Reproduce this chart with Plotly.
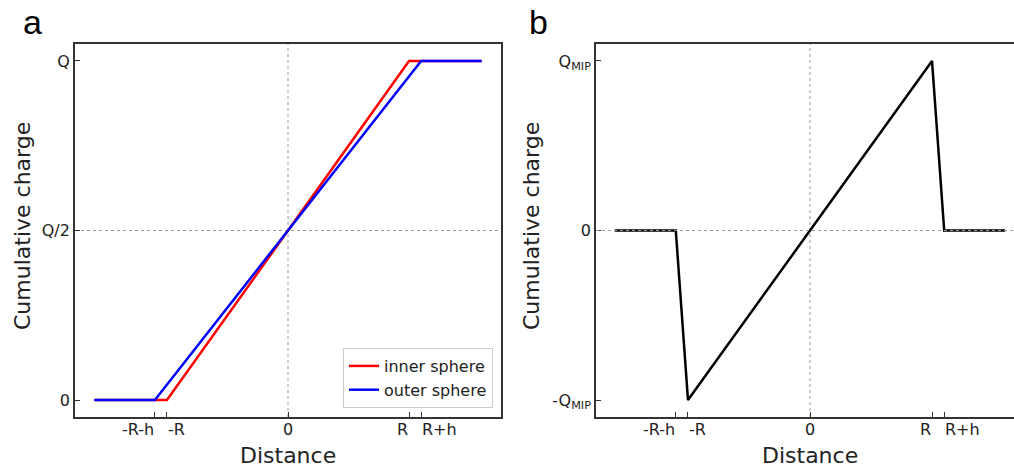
import plotly.graph_objects as go

# ---- data ----
x_inner = [-1.6, -1.0, 1.0, 1.6]
y_inner = [0, 0, 1, 1]
x_outer = [-1.6, -1.1, 1.1, 1.6]
y_outer = [0, 0, 1, 1]
x_mip = [-1.6, -1.1, -1.0, 1.0, 1.1, 1.6]
y_mip = [0, 0, -1, 1, 0, 0]

x_tickvals = [-1.1, -1.0, 0, 1.0, 1.1]
x_ticktext = ["-R-h", "-R", "0", "R", "R+h"]
x_tickalign = ["right", "left", "center", "right", "left"]
ya_tickvals = [0, 0.5, 1]
ya_ticktext = ["0", "Q/2", "Q"]
yb_tickvals = [-1, 0, 1]
yb_ticktext = ["-Q<sub>MIP</sub>", "0", "Q<sub>MIP</sub>"]

W, H = 1014, 472
L, Rm, T, B = 75, 0, 44, 55
PW = W - L - Rm
PH = H - T - B

def px(xp):
    return (xp - L) / PW

def py(yp):
    return (H - B - yp) / PH

FONT = "DejaVu Sans"
AX = "#333333"
TXT = "#222222"

fig = go.Figure()
fig.add_trace(go.Scatter(x=x_inner, y=y_inner, mode="lines", name="inner sphere",
                         line=dict(color="#ff0000", width=2.5), xaxis="x", yaxis="y"))
fig.add_trace(go.Scatter(x=x_outer, y=y_outer, mode="lines", name="outer sphere",
                         line=dict(color="#0000ff", width=2.5), xaxis="x", yaxis="y"))
fig.add_trace(go.Scatter(x=x_mip, y=y_mip, mode="lines", showlegend=False,
                         line=dict(color="#000000", width=2.5), xaxis="x2", yaxis="y2"))

common_x = dict(showgrid=False, zeroline=False, showline=True, linecolor=AX, linewidth=1.8,
                ticks="inside", ticklen=5, tickwidth=1.2, tickcolor=AX,
                tickmode="array", tickvals=x_tickvals, showticklabels=False,
                mirror=True, automargin=False)
common_y = dict(showgrid=False, zeroline=False, showline=True, linecolor=AX, linewidth=1.8,
                ticks="inside", ticklen=5, tickwidth=1.2, tickcolor=AX, tickmode="array",
                tickfont=dict(family=FONT, size=16, color=TXT), automargin=False)

fig.update_layout(
    width=W, height=H, margin=dict(l=L, r=Rm, t=T, b=B, autoexpand=False),
    paper_bgcolor="white", plot_bgcolor="white",
    xaxis=dict(common_x, domain=[0, px(501)], range=[-1.76, 1.76], anchor="y"),
    yaxis=dict(common_y, domain=[0, 1], range=[-0.05, 1.05], tickvals=ya_tickvals,
               ticktext=ya_ticktext, mirror=True, anchor="x"),
    xaxis2=dict(common_x, domain=[px(596), 1], range=[-1.754, 1.672], anchor="y2"),
    yaxis2=dict(common_y, domain=[0, 1], range=[-1.1, 1.1], tickvals=yb_tickvals,
                ticktext=yb_ticktext, mirror=False, anchor="x2"),
    legend=dict(x=px(493), y=py(408), xanchor="right", yanchor="bottom",
                bgcolor="white", bordercolor="#cccccc", borderwidth=1,
                font=dict(family=FONT, size=16, color=TXT), tracegroupgap=0),
    showlegend=True,
)

dot = dict(color="#999999", width=1, dash="dot")
fig.add_shape(type="line", xref="x", yref="paper", x0=0, x1=0, y0=0, y1=1, line=dot, layer="below")
fig.add_shape(type="line", xref="paper", yref="y", x0=0, x1=px(501), y0=0.5, y1=0.5, line=dot, layer="below")
fig.add_shape(type="line", xref="x2", yref="paper", x0=0, x1=0, y0=0, y1=1, line=dot, layer="below")
fig.add_shape(type="line", xref="paper", yref="y2", x0=px(596), x1=1, y0=0, y1=0, line=dot, layer="above")

ann = []
# x tick labels
for xr in ["x", "x2"]:
    for v, t, a in zip(x_tickvals, x_ticktext, x_tickalign):
        ann.append(dict(text=t, x=v, y=py(429), xref=xr, yref="paper", showarrow=False,
                        xanchor=a, yanchor="middle", xshift=(1 if a == "right" else (-1 if a == "left" else 0)),
                        font=dict(family=FONT, size=16, color=TXT)))
# axis titles
ann.append(dict(text="Cumulative charge", x=px(22), y=py(226), xref="paper", yref="paper",
                textangle=-90, showarrow=False, xanchor="center", yanchor="middle",
                font=dict(family=FONT, size=22, color=TXT)))
ann.append(dict(text="Cumulative charge", x=px(531), y=py(226), xref="paper", yref="paper",
                textangle=-90, showarrow=False, xanchor="center", yanchor="middle",
                font=dict(family=FONT, size=22, color=TXT)))
ann.append(dict(text="Distance", x=px(288), y=py(455), xref="paper", yref="paper",
                showarrow=False, xanchor="center", yanchor="middle",
                font=dict(family=FONT, size=22, color=TXT)))
ann.append(dict(text="Distance", x=px(810), y=py(455), xref="paper", yref="paper",
                showarrow=False, xanchor="center", yanchor="middle",
                font=dict(family=FONT, size=22, color=TXT)))
# panel labels
ann.append(dict(text="a", x=px(32), y=py(22), xref="paper", yref="paper",
                showarrow=False, xanchor="center", yanchor="middle",
                font=dict(family="Liberation Sans", size=34, color="#000")))
ann.append(dict(text="b", x=px(538), y=py(22), xref="paper", yref="paper",
                showarrow=False, xanchor="center", yanchor="middle",
                font=dict(family="Liberation Sans", size=34, color="#000")))
fig.update_layout(annotations=ann)

fig.write_html("out.html", config={"displayModeBar": False},
               post_script="document.body.style.margin='0';document.body.style.overflow='hidden';")
